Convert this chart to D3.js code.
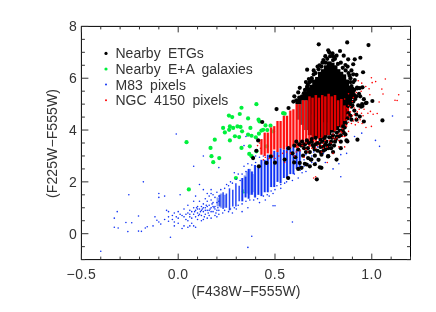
<!DOCTYPE html>
<html>
<head>
<meta charset="utf-8">
<script src="https://d3js.org/d3.v7.min.js"></script>
<style>
html, body { margin: 0; padding: 0; background: #fff; }
svg { display: block; filter: blur(0.35px); }
text { font-family: "Liberation Sans", sans-serif; font-size: 14px; fill: #333; }
</style>
</head>
<body>
<div id="chart"></div>
<script>
// DATA ------------------------------------------------------------
var xTicks = [-0.5, 0.0, 0.5, 1.0];
var yTicks = [0, 2, 4, 6, 8];
var legendLabels = ["Nearby ETGs", "Nearby E+A galaxies", "M83 pixels", "NGC 4150 pixels"];

// dense parts of the cloud, [x, yLow, yHigh]
var etgColumns = [
	[0.63,5.0,5.2],[0.645,4.9,5.35],[0.66,4.8,5.5],[0.675,4.7,5.65],[0.69,4.6,5.75],[0.705,4.6,5.95],[0.72,4.5,6.05],[0.735,4.4,6.25],
	[0.75,4.3,6.35],[0.765,4.3,6.5],[0.78,4.3,6.65],[0.795,4.3,6.6],[0.81,4.3,6.5],[0.825,4.3,6.35],[0.84,4.4,6.25],[0.855,4.5,6.15],
	[0.87,4.6,5.95],[0.885,4.9,5.7],[0.9,5.2,5.55]
];
var etgUnderRed = [
	[0.62,4.4,5.0],[0.64,4.2,5.0],[0.66,4.0,5.0],[0.68,3.8,5.0],[0.70,3.7,5.0],[0.72,3.7,5.0],[0.74,3.7,5.0],
	[0.76,3.7,5.0],[0.78,3.8,5.0],[0.80,3.9,5.0],[0.82,4.0,5.0],[0.84,4.1,5.0],[0.86,4.2,5.0]
];
// left end of the M83 stripes is thinner
var m83SparseColumns = [
	[0.215,1.05,1.5],[0.232,0.95,1.6],[0.249,1.0,1.55],[0.265,0.9,1.75],[0.282,1.05,1.7],[0.298,1.05,1.95],[0.315,1.25,1.85]
];
var m83Columns = [
	[0.331,1.25,2.15],[0.348,1.4,2.2],[0.364,1.35,2.5],[0.381,1.5,2.4],[0.397,1.4,2.65],[0.414,1.5,2.6],[0.430,1.45,2.85],
	[0.447,1.6,2.85],[0.463,1.6,3.05],[0.480,1.8,3.0],[0.496,1.8,3.2],[0.513,2.0,3.15],[0.529,1.95,3.3],[0.546,2.15,3.25],
	[0.562,2.15,3.4],[0.579,2.3,3.3],[0.595,2.3,3.4],[0.612,2.5,3.25],[0.628,2.55,3.25]
];
var m83Light = [
	[0.205,1.05,1.4],[0.222,1.0,1.55],[0.240,1.0,1.5],[0.345,1.6,2.25],[0.355,1.55,2.4],[0.370,1.5,2.5],[0.385,1.6,2.3]
];
var ngcLeftColumns = [
	[0.430,3.05,3.65],[0.447,3.0,3.9],[0.463,3.1,3.9],[0.480,3.05,4.1],[0.496,3.25,4.15],[0.513,3.15,4.35],[0.529,3.3,4.35],
	[0.546,3.25,4.55],[0.562,3.35,4.55],[0.579,3.3,4.75],[0.595,3.4,4.8],[0.612,3.3,5.0],[0.628,3.4,5.0],[0.645,3.35,5.15],
	[0.661,3.45,5.15]
];
// these sit on the black clump, so it shows dark between the stripes
var ngcRightColumns = [
	[0.678,3.35,5.3],[0.694,3.5,5.25],[0.711,3.45,5.35],[0.727,3.65,5.25],[0.744,3.65,5.35],[0.760,3.8,5.3],
	[0.777,3.8,5.4],[0.793,4.0,5.3],[0.810,3.95,5.35],[0.826,4.15,5.15],[0.843,4.1,5.2],[0.859,4.35,4.95],[0.876,4.4,4.85]
];

// under the red cloud
var etgPoints = [
	[0.726,7.31],[0.873,7.38],[0.983,7.28],[0.666,6.33],[0.775,7.08],[0.797,6.96],[0.836,7.05],[0.818,6.87],[0.855,6.87],[0.912,6.73],
	[0.941,6.79],[0.878,6.73],[0.864,6.51],[0.904,6.54],[0.955,6.23],[0.675,5.97],[0.628,5.63],[0.666,5.68],[0.649,5.42],[0.921,6.13],
	[0.904,6.15],[0.912,5.93],[0.938,5.62],[0.924,5.64],[0.926,5.61],[0.952,5.65],[0.934,5.40],[0.94,5.3],
	[0.895,6.3],[0.885,6.1],[0.89,5.85],[0.9,5.6],[0.91,5.35],[0.88,5.3],
	[0.78,7.0],[0.8,6.85],[0.76,6.85],[0.745,6.6],[0.725,6.35],[0.7,6.15],[0.69,5.9],[0.67,5.75],[0.655,5.55],[0.64,5.3],
	[0.62,5.45],[0.61,5.15],[0.6,5.3],[0.63,5.1],[0.66,5.2],[0.71,6.2],[0.72,6.45],[0.73,6.5],[0.74,6.45],[0.75,6.7],
	[0.76,6.6],[0.77,6.75],[0.785,6.85],[0.8,6.7],[0.81,6.75],[0.825,6.55],[0.84,6.6],[0.85,6.4],[0.865,6.3],[0.875,6.45],
	[0.88,6.2],[0.89,6.0],[0.905,5.85],[0.895,5.7],[0.91,5.55],[0.69,6.0],[0.68,5.85],[0.665,5.6],[0.675,5.45],[0.655,5.3],
	[0.64,5.2],[0.625,5.25],[0.615,5.05],[0.66,5.85],[0.7,6.3],[0.86,5.25],[0.885,5.15],[0.87,5.05],[0.905,5.1],[0.92,5.3],
	[0.915,5.2],[0.9,5.4],[0.595,5.1],[0.57,4.85]
];
// on top of the red cloud
var etgTopPoints = [
	[1.003,5.12],[0.959,5.19],[1.055,4.37],[0.969,5.04],[0.952,4.93],[0.973,5.05],[0.508,4.81],[0.434,4.31],[0.413,3.6],[0.404,3.2],
	[0.387,2.92],[0.456,2.73],[0.568,2.15],[0.716,2.1],[0.818,2.86],[0.732,2.56],[0.654,2.7],[0.628,2.73],[0.599,2.75],[0.685,2.86],
	[0.706,2.68],[0.645,3.01],[0.671,2.92],[0.706,3.01],[0.74,3.05],[0.774,2.98],[0.874,3.56],[0.926,3.63],[0.864,3.83],[0.869,3.6],
	[0.479,2.98],[0.5,2.74],[0.417,2.6],[0.637,2.54],[0.663,2.67],[0.688,2.86],[0.775,2.99],[0.655,3.45],[0.67,3.3],[0.68,3.15],
	[0.695,3.42],[0.705,3.25],[0.72,3.5],[0.735,3.35],[0.75,3.2],[0.76,3.45],[0.775,3.3],[0.79,3.55],[0.805,3.4],[0.815,3.65],
	[0.83,3.75],[0.84,3.55],[0.62,3.25],[0.635,3.4],[0.6,3.4],[0.59,3.1],[0.57,3.3],[0.665,3.6],[0.69,3.65],[0.71,3.7],
	[0.735,3.62],[0.755,3.68],[0.78,3.72],[0.8,3.8],[0.82,3.9],[0.85,4.0],[0.835,3.98],[0.852,4.14],[0.866,4.27],[0.895,4.4],
	[0.921,4.4],[0.938,4.52],[0.959,4.33],[0.91,4.75],[0.88,4.65],[0.945,4.9],[0.9,4.95],[0.55,2.86],[0.605,2.95],[0.725,2.85],
	[0.74,2.54],[0.8,3.15],[0.84,3.3],[0.68,2.6],[0.62,2.5],[0.895,4.9],[0.93,4.95],[0.95,5.0],[0.92,4.6],[0.64,3.55],
	[0.65,3.3],[0.66,3.15],[0.69,3.55],[0.7,3.35],[0.71,3.45],[0.73,3.5],[0.745,3.55],[0.75,3.35],[0.765,3.55],[0.77,3.4],
	[0.785,3.45],[0.795,3.7],[0.81,3.55],[0.82,3.75],[0.84,3.8],[0.855,3.9],[0.72,3.2],[0.735,3.15],[0.76,3.25],[0.79,3.3],
	[0.61,3.55],[0.625,3.45],[0.675,3.5],[0.86,4.1],[0.875,4.45],[0.89,4.55]
];
var eaPoints = [
	[0.404,5.0],[0.327,4.86],[0.262,4.56],[0.279,4.5],[0.318,4.62],[0.361,4.45],[0.415,4.4],[0.42,4.33],[0.232,4.08],[0.267,4.14],
	[0.263,4.01],[0.241,3.91],[0.284,4.08],[0.306,4.14],[0.322,4.12],[0.33,3.95],[0.373,4.08],[0.361,3.82],[0.379,3.78],[0.401,3.72],
	[0.417,3.86],[0.293,3.76],[0.315,3.73],[0.267,3.6],[0.189,3.63],[0.043,3.53],[0.167,3.31],[0.327,3.31],[0.37,3.37],[0.404,3.18],
	[0.172,2.99],[0.212,2.92],[0.181,2.76],[0.367,3.08],[0.379,2.99],[0.298,2.15],[0.055,1.71],[0.339,1.63],[0.451,4.18],[0.477,4.17],
	[0.439,4.01],[0.49,3.95],[0.456,3.37],[0.542,4.65],[0.55,4.63],[0.46,4.0],[0.43,3.98]
];
var m83Points = [
	[-0.40,-0.68],[-0.33,0.6],[-0.33,0.25],[-0.315,0.85],[-0.31,0.22],[-0.27,0.43],[-0.255,1.5],[-0.26,0.08],[-0.24,0.42],[-0.205,0.68],
	[-0.205,0.1],[-0.19,0.09],[-0.18,2.0],[-0.17,0.22],[-0.16,0.27],[-0.13,0.3],[-0.12,0.65],[-0.11,0.52],[-0.1,1.55],[-0.1,1.4],
	[-0.1,0.45],[-0.09,0.37],[-0.07,1.45],[-0.07,0.55],[-0.06,0.9],[-0.05,0.85],[-0.05,0.65],[-0.05,0.48],[-0.04,-0.14],[-0.03,0.7],
	[-0.03,0.55],[-0.02,0.8],[-0.02,0.45],[-0.02,0.3],[0.0,0.6],[0.0,0.4],[0.0,0.85],[0.01,1.5],[0.02,0.7],[0.02,0.2],
	[0.03,0.95],[0.03,0.65],[0.04,0.55],[0.05,0.8],[0.05,0.5],[0.06,0.9],[0.06,0.65],[0.07,0.4],[0.07,0.85],[0.08,0.3],
	[0.08,1.0],[0.08,0.75],[0.09,0.25],[0.09,0.9],[0.1,1.05],[0.1,0.8],[0.11,1.9],[0.11,0.95],[0.12,0.7],[0.12,1.05],
	[0.13,0.85],[0.13,1.15],[0.14,1.0],[0.14,0.75],[0.15,1.25],[0.15,0.9],[0.16,1.1],[0.16,0.7],[0.17,1.3],[0.17,1.0],
	[0.18,0.85],[0.18,1.2],[0.19,1.4],[0.19,1.05],[0.2,1.2],[0.2,0.9],[0.21,1.45],[0.21,0.75],[0.13,1.7],[0.15,1.55],
	[0.17,1.7],[0.23,0.8],[0.26,0.85],[0.28,0.8],[0.3,0.95],[0.33,0.85],[0.36,1.0],[0.25,1.9],[0.27,2.0],[0.29,2.35],
	[0.31,2.3],[0.34,2.6],[0.36,2.7],[0.39,2.9],[0.4,3.0],[0.42,1.2],[0.45,1.3],[0.47,1.45],[0.49,1.55],[0.5,1.7],
	[0.53,1.75],[0.56,2.0],[0.49,1.08],[0.5,1.08],[0.59,0.45],[0.38,-0.1],[0.36,-0.53],[-0.01,3.85],[0.08,2.6],[0.13,3.0],
	[0.21,2.55],[0.34,3.4],[0.35,3.75],[1.107,4.54],[0.948,3.88],[0.911,3.75],[1.019,3.6],[1.04,3.37],[0.84,2.2],[0.8,2.5],
	[0.83,2.7],[0.84,3.05],[0.87,3.1],[0.72,2.9],[0.76,2.75],[0.69,2.75],[0.66,2.4],[0.65,2.85],[0.7,3.15],[0.75,3.1],
	[0.78,3.45],[0.72,3.35],[0.81,3.6],[0.67,3.25],[0.6,2.3],[0.62,2.15],[0.64,2.35],[0.59,2.05],
	[0.085,0.85],[0.095,1.0],[0.105,0.7],[0.115,0.85],[0.125,0.95],[0.135,0.65],[0.145,1.1],[0.155,0.8],[0.165,0.95],[0.175,1.15],
	[0.185,1.0],[0.195,0.8],[0.205,1.0],[0.21,1.25],[0.1,0.95],[0.11,0.75],[0.12,0.9],[0.13,1.0],[0.14,0.9],[0.15,1.05],
	[0.16,0.9],[0.17,0.85],[0.18,1.05],[0.19,0.95],[0.06,0.75],[0.04,0.75],[0.07,0.6],[0.09,0.65],[-0.01,0.65],[0.01,0.75],
	[0.22,1.7],[0.24,1.75],[0.26,1.85],[0.28,1.95],[0.3,2.1],[0.32,2.05],[0.33,2.3],[0.35,2.4],[0.24,0.9],[0.27,0.95],
	[0.29,1.0],[0.31,1.1],[0.33,1.15],[0.35,1.25],[0.37,1.3],[0.39,1.3],[0.41,1.35],[0.44,1.45],[0.46,1.5],[0.48,1.65],
	[0.51,1.85],[0.53,1.9],[0.55,1.95],[0.57,2.1],[0.38,2.65],[0.4,2.75],[0.42,2.95],[0.44,3.0],[0.63,2.45],[0.65,2.6],
	[0.67,2.7],[0.69,3.0],[0.71,2.75],[0.76,3.2],[0.79,3.25],[0.66,3.05],
	[0.03,0.3],[0.05,1.1],[0.06,0.3],[0.08,1.25],[0.1,0.55],[0.11,1.25],[0.12,0.5],[0.14,1.35],[0.15,0.6],[0.16,1.45],
	[0.17,0.6],[0.18,1.5],[0.19,0.7],[0.2,1.6],[0.21,0.9],[0.05,0.25],[0.09,1.45],[0.13,0.55],[0.17,1.55],[0.2,0.65]
];
var ngcPoints = [
	[0.998,6.02],[1.07,5.97],[1.002,5.83],[1.02,5.87],[0.969,5.68],[0.948,5.81],[1.052,5.58],[0.986,5.59],[0.99,5.36],[1.058,5.39],
	[1.139,5.36],[1.131,5.14],[1.038,5.08],[0.993,4.72],[1.007,4.61],[1.028,4.64],[0.998,4.14],[0.947,4.65],[1.12,5.15],[0.93,5.9],
	[0.865,4.2],[0.87,4.4],[0.875,4.6],[0.88,4.3],[0.885,4.5],[0.89,4.7],[0.895,4.25],[0.9,4.55],[0.905,4.35],[0.91,4.6],
	[0.915,4.2],[0.92,4.45],[0.925,4.7],[0.93,4.3],[0.935,4.8],[0.94,4.4],[0.95,4.25],[0.955,4.55],[0.96,4.8],[0.97,4.1],
	[0.98,4.65],[0.87,4.85],[0.88,4.95],[0.9,5.1],[0.86,5.2],[0.88,5.4],[0.845,3.9],[0.86,3.75],[0.88,3.95],[0.82,3.7],
	[0.7,2.15],[0.71,2.2],[0.77,2.75],[0.8,3.1],[0.83,3.35],[0.74,3.15],[0.65,2.95],[0.6,3.0],[0.55,2.75],[0.5,2.9],
	[0.44,2.85],[0.86,3.35],[0.42,3.5],[0.425,3.3],[0.41,3.4],[0.45,2.95],[0.47,2.9],[0.49,3.0],[0.52,3.0],[0.54,3.1],
	[0.56,3.15],[0.58,3.1],[0.61,3.15],[0.63,3.2],[0.66,3.25],[0.69,3.3],[0.72,3.4],[0.75,3.5],[0.78,3.6],[0.8,3.7],
	[0.83,3.85],[0.85,4.05],[0.87,4.15],[0.89,4.9],[0.91,4.85],[0.905,5.25],[0.92,5.45],[0.945,5.5],
	[0.66,3.5],[0.68,3.4],[0.7,3.6],[0.71,3.3],[0.73,3.55],[0.74,3.4],[0.76,3.6],[0.77,3.35],[0.79,3.5],[0.81,3.65],
	[0.83,3.6],[0.85,3.75],[0.64,3.4],[0.67,3.15],[0.62,3.35],[0.75,3.3],[0.8,3.85],[0.84,3.95]
];

// CHART ------------------------------------------------------------
var width = 436, height = 312;
var margin = {top: 26.4, right: 25.5, bottom: 52.4, left: 81.4};
var plotW = width - margin.left - margin.right;
var plotH = height - margin.top - margin.bottom;

var x = d3.scaleLinear().domain([-0.5, 1.2]).range([0, plotW]);
var y = d3.scaleLinear().domain([-1, 8]).range([plotH, 0]);

var svg = d3.select("#chart").append("svg")
	.attr("width", width)
	.attr("height", height);
var g = svg.append("g").attr("transform", "translate(" + margin.left + "," + margin.top + ")");

var colors = {black: "#000000", green: "#00f03c", blue: "#0f32f5", light: "#8ea2f2", red: "#ff0000"};

function drawColumns(data, color, w, opacity) {
	g.append("g").selectAll("line").data(data).enter().append("line")
		.attr("x1", function(d) { return x(d[0]); })
		.attr("x2", function(d) { return x(d[0]); })
		.attr("y1", function(d) { return y(d[1]); })
		.attr("y2", function(d) { return y(d[2]); })
		.attr("stroke", color)
		.attr("stroke-width", w)
		.attr("stroke-opacity", opacity);
}
function drawPoints(data, color, r) {
	g.append("g").selectAll("circle").data(data).enter().append("circle")
		.attr("cx", function(d) { return x(d[0]); })
		.attr("cy", function(d) { return y(d[1]); })
		.attr("r", r)
		.attr("fill", color);
}

drawColumns(etgColumns, colors.black, 5, 1);
drawColumns(etgUnderRed, colors.black, 4.2, 1);
drawPoints(etgPoints, colors.black, 2.1);
drawPoints(eaPoints, colors.green, 2.1);
drawColumns(m83Light, colors.light, 2.6, 1);
drawColumns(m83SparseColumns, colors.blue, 1.5, 0.9);
drawColumns(m83Columns, colors.light, 3.2, 0.35);
drawColumns(m83Columns, colors.blue, 1.8, 1);
drawPoints(m83Points, colors.blue, 0.8);
// pink shows between the red stripes, same as the blurred reference
drawColumns(ngcLeftColumns, "#ff9a9a", 3.3, 0.55);
drawColumns(ngcLeftColumns, colors.red, 2.1, 0.92);
drawColumns(ngcRightColumns, colors.red, 2.5, 0.88);
drawPoints(etgTopPoints, colors.black, 2.1);
drawPoints(ngcPoints, colors.red, 0.8);

// frame and ticks
g.append("rect")
	.attr("width", plotW)
	.attr("height", plotH)
	.attr("fill", "none")
	.attr("stroke", "#000")
	.attr("stroke-width", 1);

var xMinor = d3.range(-0.5, 1.2001, 0.1);
var yMinor = d3.range(-1, 8.001, 0.5);
var ticks = g.append("g").attr("stroke", "#333");
xMinor.forEach(function(v) {
	var major = xTicks.some(function(t) { return Math.abs(t - v) < 1e-6; });
	var len = major ? 6 : 3;
	ticks.append("line").attr("x1", x(v)).attr("x2", x(v)).attr("y1", plotH).attr("y2", plotH - len);
	ticks.append("line").attr("x1", x(v)).attr("x2", x(v)).attr("y1", 0).attr("y2", len);
});
yMinor.forEach(function(v) {
	var major = yTicks.indexOf(v) >= 0;
	var len = major ? 7 : 3.5;
	ticks.append("line").attr("y1", y(v)).attr("y2", y(v)).attr("x1", 0).attr("x2", len);
	ticks.append("line").attr("y1", y(v)).attr("y2", y(v)).attr("x1", plotW).attr("x2", plotW - len);
});

// tick labels
g.selectAll(".xlab").data(xTicks).enter().append("text")
	.attr("class", "xlab")
	.attr("x", function(d) { return x(d); })
	.attr("y", plotH + 19.5)
	.attr("text-anchor", "middle")
	.style("letter-spacing", "0.5px")
	.text(function(d) { return d3.format(".1f")(d).replace("-", "\u2212"); });
g.selectAll(".ylab").data(yTicks).enter().append("text")
	.attr("class", "ylab")
	.attr("x", -4.5)
	.attr("y", function(d) { return y(d) + 5; })
	.attr("text-anchor", "end")
	.text(function(d) { return d; });

// axis titles
svg.append("text")
	.attr("x", 246)
	.attr("y", 296)
	.attr("text-anchor", "middle")
	.attr("textLength", 109)
	.text("(F438W\u2212F555W)");
svg.append("text")
	.attr("transform", "translate(57,143.5) rotate(-90)")
	.attr("text-anchor", "middle")
	.attr("textLength", 109)
	.text("(F225W\u2212F555W)");

// legend
var legendColors = [colors.black, colors.green, colors.blue, colors.red];
var legendY = d3.scalePoint().domain(legendLabels).range([53.4, 100.2]);
legendLabels.forEach(function(label, i) {
	svg.append("circle")
		.attr("cx", 106)
		.attr("cy", legendY(label))
		.attr("r", i < 2 ? 1.6 : 1)
		.attr("fill", legendColors[i]);
	svg.append("text")
		.attr("x", 115.5)
		.attr("y", legendY(label) + 5)
		.style("word-spacing", "3.5px")
		.text(label);
});
</script>
</body>
</html>
